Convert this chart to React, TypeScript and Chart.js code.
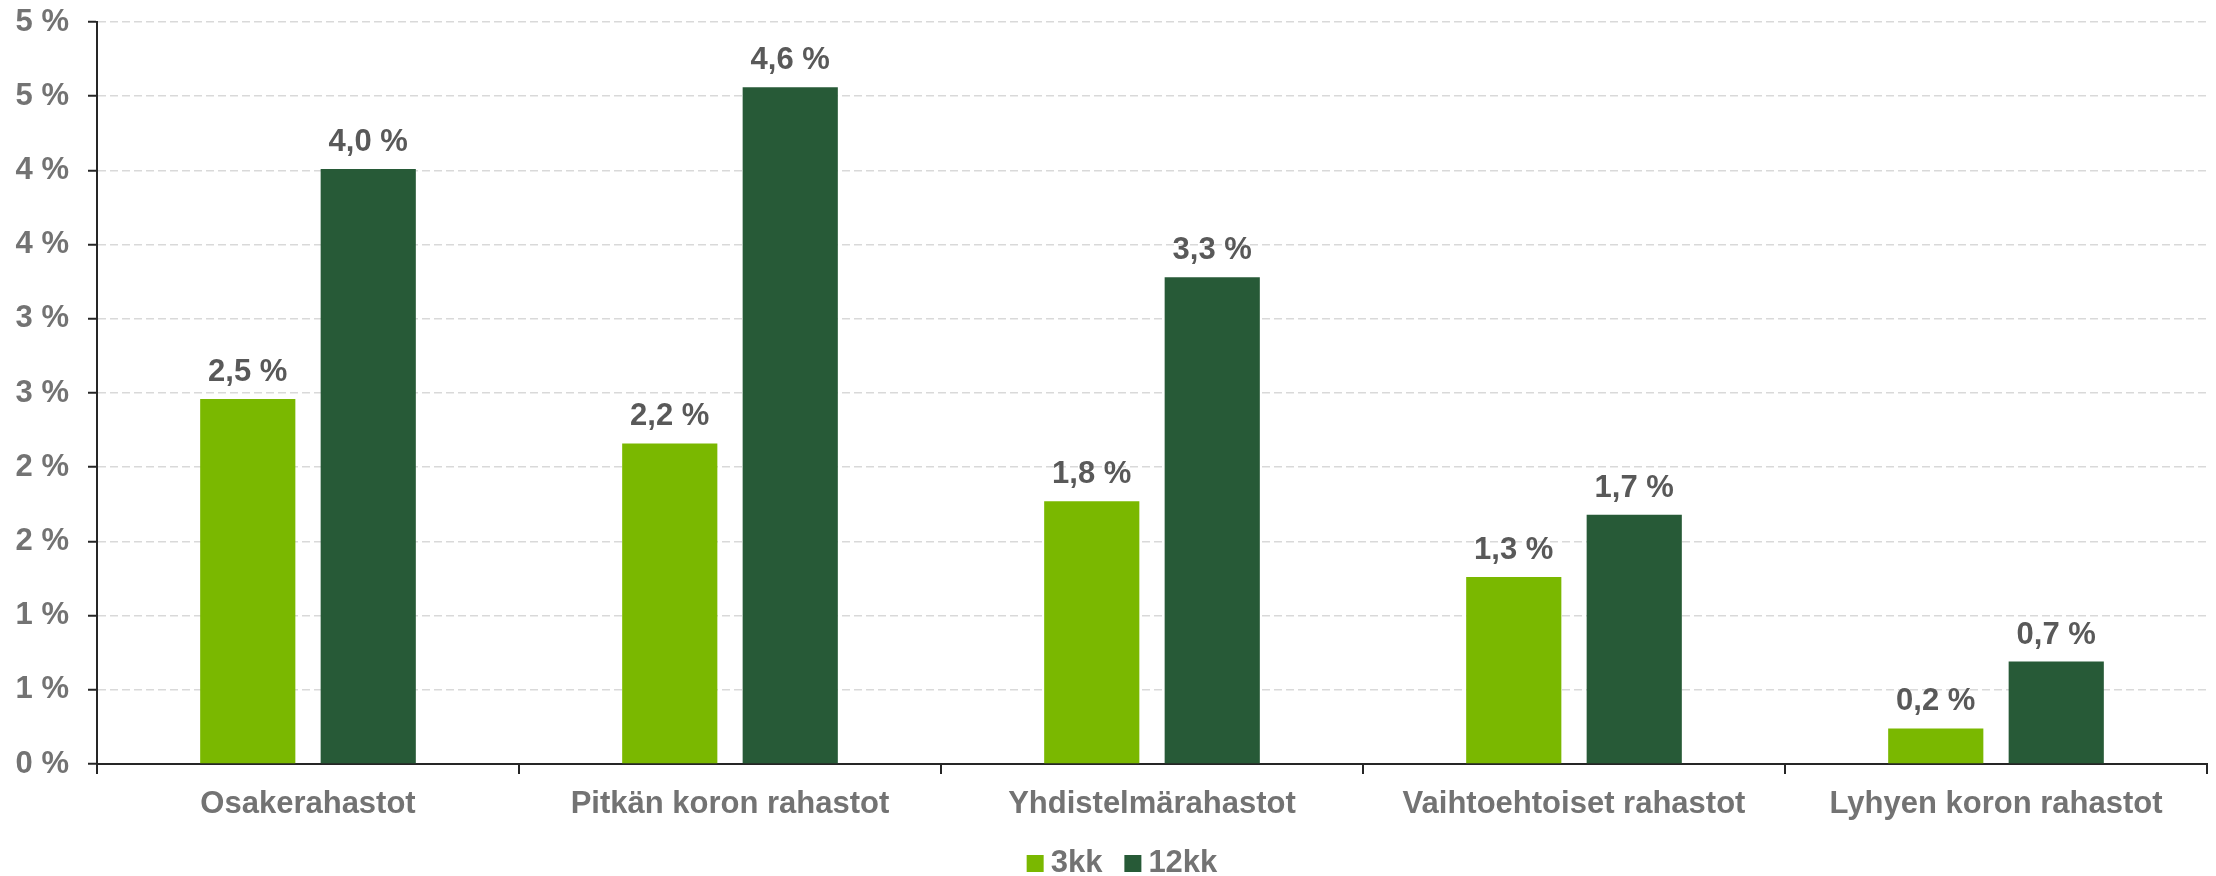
import React, { useEffect, useRef } from "react";
import { Chart, registerables } from "chart.js";

Chart.register(...registerables);

const categories = [
  "Osakerahastot",
  "Pitkän koron rahastot",
  "Yhdistelmärahastot",
  "Vaihtoehtoiset rahastot",
  "Lyhyen koron rahastot",
];
const series3kk = [2.46, 2.16, 1.77, 1.26, 0.24];
const series12kk = [4.01, 4.56, 3.28, 1.68, 0.69];
const seriesNames = ["3kk", "12kk"];
const seriesColors = ["#7ab800", "#275a37"];
const yTickValues = [0, 0.5, 1, 1.5, 2, 2.5, 3, 3.5, 4, 4.5, 5];

const FONT = '"Liberation Sans", Arial, sans-serif';
const AXIS_TEXT = "#737373";
const LABEL_TEXT = "#595959";
const AXIS_LINE = "#262626";

const dataLabelPlugin = {
  id: "dataLabels",
  afterDatasetsDraw(chart: any) {
    const ctx = chart.ctx;
    ctx.save();
    ctx.font = `bold 31px ${FONT}`;
    ctx.fillStyle = LABEL_TEXT;
    ctx.textAlign = "center";
    ctx.textBaseline = "alphabetic";
    chart.data.datasets.forEach((ds: any, di: number) => {
      const meta = chart.getDatasetMeta(di);
      meta.data.forEach((el: any, i: number) => {
        const v = ds.data[i] as number;
        const txt = v.toFixed(1).replace(".", ",") + " %";
        ctx.fillText(txt, el.x, el.y - 18);
      });
    });
    ctx.restore();
  },
};

const legendPlugin = {
  id: "customLegend",
  afterDraw(chart: any) {
    const ctx = chart.ctx;
    ctx.save();
    ctx.font = `bold 31px ${FONT}`;
    const box = 17;
    const gapBoxText = 7;
    const gapItems = 22;
    const widths = seriesNames.map((n) => ctx.measureText(n).width);
    let total = 0;
    widths.forEach((w, i) => {
      total += box + gapBoxText + w + (i < widths.length - 1 ? gapItems : 0);
    });
    let x = chart.width / 2 + 14 - total / 2;
    const baseline = chart.height - 4;
    ctx.textAlign = "left";
    ctx.textBaseline = "alphabetic";
    seriesNames.forEach((n, i) => {
      ctx.fillStyle = seriesColors[i];
      ctx.fillRect(x, baseline - box, box, box);
      x += box + gapBoxText;
      ctx.fillStyle = AXIS_TEXT;
      ctx.fillText(n, x, baseline);
      x += widths[i] + gapItems;
    });
    ctx.restore();
  },
};

export default function App() {
  const canvasRef = useRef<HTMLCanvasElement | null>(null);

  useEffect(() => {
    if (!canvasRef.current) return;
    const chart = new Chart(canvasRef.current, {
      type: "bar",
      data: {
        labels: categories,
        datasets: [
          {
            label: seriesNames[0],
            data: series3kk,
            backgroundColor: seriesColors[0],
            barPercentage: 0.79,
            categoryPercentage: 0.571,
          },
          {
            label: seriesNames[1],
            data: series12kk,
            backgroundColor: seriesColors[1],
            barPercentage: 0.79,
            categoryPercentage: 0.571,
          },
        ],
      },
      options: {
        responsive: false,
        animation: false,
        layout: { padding: { top: 22, right: 9, left: 0, bottom: 40 } },
        plugins: {
          legend: { display: false },
          tooltip: { enabled: false },
        },
        scales: {
          x: {
            offset: true,
            grid: {
              display: true,
              drawOnChartArea: false,
              drawTicks: true,
              tickLength: 10,
              color: AXIS_LINE,
              lineWidth: 2,
              offset: true,
            },
            border: { display: true, color: AXIS_LINE, width: 2 },
            ticks: {
              color: AXIS_TEXT,
              font: { family: FONT, size: 31, weight: "bold" },
              padding: 12,
              maxRotation: 0,
            },
            afterFit(scale: any) {
              scale.height = 72;
              scale.paddingLeft = 0;
              scale.paddingRight = 0;
            },
          },
          y: {
            min: 0,
            max: 5,
            afterBuildTicks(scale: any) {
              scale.ticks = yTickValues.map((v) => ({ value: v }));
            },
            grid: {
              display: true,
              drawOnChartArea: true,
              drawTicks: true,
              tickLength: 9,
              color: "#d9d9d9",
              lineWidth: 1.5,
              tickColor: AXIS_LINE,
              tickWidth: 2,
              tickBorderDash: [],
            },
            border: { display: true, color: AXIS_LINE, width: 2, dash: [8, 4] },
            ticks: {
              color: AXIS_TEXT,
              font: { family: FONT, size: 31, weight: "bold" },
              padding: 19,
              callback: (v: any) => Math.round(Number(v)) + " %",
            },
            afterFit(scale: any) {
              scale.width = 97;
              scale.paddingTop = 0;
              scale.paddingBottom = 0;
            },
          },
        },
      },
      plugins: [dataLabelPlugin, legendPlugin],
    });
    return () => chart.destroy();
  }, []);

  return (
    <div style={{ position: "fixed", left: 0, top: 0, width: 2216, height: 876, background: "#fff" }}>
      <canvas ref={canvasRef} width={2216} height={876} style={{ width: 2216, height: 876, display: "block" }} />
    </div>
  );
}
